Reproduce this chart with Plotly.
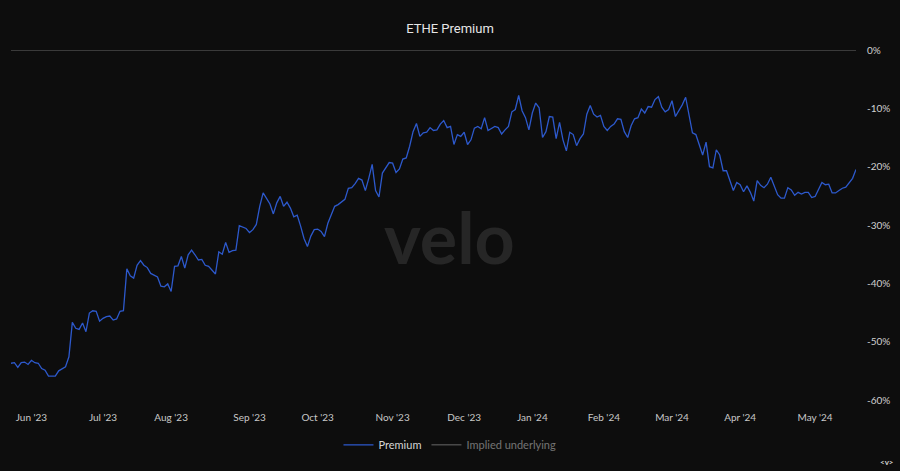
import pandas as pd
import plotly.graph_objects as go

# Trading-day calendar (US market holidays excluded)
start_date = "2023-05-23"
end_date = "2024-05-17"
market_holidays = ["2023-05-29", "2023-06-19", "2023-07-04", "2023-09-04", "2023-11-23",
                   "2023-12-25", "2024-01-01", "2024-01-15", "2024-02-19", "2024-03-29"]

# ETHE premium, percent
premium = [
    -53.7, -53.6, -54.4, -53.6, -53.5, -53.9, -53.2, -53.6, -53.7, -54.6,
    -54.9, -55.9, -55.9, -55.9, -55.0, -54.6, -54.3, -52.6, -46.7, -47.7,
    -47.9, -46.8, -48.3, -45.1, -44.7, -44.8, -46.5, -46.0, -45.7, -45.6,
    -46.3, -46.1, -44.8, -44.7, -37.5, -38.7, -39.1, -36.9, -36.1, -36.9,
    -37.3, -38.3, -38.6, -38.9, -40.5, -40.6, -40.1, -41.4, -37.1, -37.0,
    -35.4, -37.4, -35.1, -34.3, -35.1, -36.0, -35.9, -36.9, -37.1, -37.7,
    -38.4, -34.6, -35.0, -33.0, -34.7, -34.4, -34.3, -30.1, -30.4, -30.6,
    -31.3, -30.8, -29.9, -26.8, -24.5, -25.4, -26.4, -28.1, -26.2, -25.1,
    -26.8, -26.1, -27.1, -28.6, -28.3, -30.2, -32.3, -33.7, -31.9, -30.8,
    -30.7, -31.1, -32.0, -29.7, -28.3, -26.8, -26.5, -26.0, -25.6, -23.7,
    -23.6, -22.9, -22.0, -22.3, -24.1, -22.0, -19.6, -24.1, -25.2, -21.1,
    -20.1, -19.3, -19.4, -21.0, -20.4, -18.7, -18.5, -16.5, -14.0, -12.6,
    -14.8, -14.2, -14.1, -13.3, -13.8, -13.7, -12.7, -12.1, -13.3, -13.1,
    -16.2, -14.5, -14.8, -14.1, -16.2, -15.4, -13.4, -13.1, -13.5, -11.6,
    -13.8, -13.5, -13.1, -13.3, -14.4, -13.7, -13.1, -10.6, -10.2, -7.8,
    -10.4, -11.6, -13.7, -10.8, -9.1, -9.9, -15.0, -14.0, -11.4, -11.5,
    -15.2, -12.4, -15.4, -17.3, -14.1, -14.5, -16.4, -15.2, -14.4, -11.0,
    -9.5, -11.0, -11.5, -11.2, -13.1, -13.8, -13.1, -12.7, -11.8, -11.9,
    -14.0, -15.0, -13.0, -11.8, -11.6, -10.1, -10.8, -9.7, -9.8, -8.5,
    -8.0, -9.8, -10.6, -10.2, -8.7, -11.4, -10.5, -9.4, -8.1, -11.1,
    -14.2, -14.5, -16.4, -18.0, -15.8, -20.0, -20.2, -17.1, -18.0, -20.7,
    -20.7, -22.3, -24.1, -22.7, -23.1, -24.3, -23.3, -24.4, -25.9, -22.4,
    -23.2, -23.6, -23.0, -21.8, -23.4, -24.8, -25.4, -25.4, -23.6, -24.0,
    -24.9, -24.4, -24.7, -24.4, -24.4, -25.3, -25.1, -23.8, -22.7, -23.1,
    -23.0, -24.5, -24.5, -24.1, -23.7, -23.5, -22.8, -22.0, -20.5,
]

y_ticks = [0, -10, -20, -30, -40, -50, -60]
y_tick_labels = ["0%", "-10%", "-20%", "-30%", "-40%", "-50%", "-60%"]

days = pd.bdate_range(start_date, end_date, freq="C", holidays=market_holidays)
dates = [d.strftime("%Y-%m-%d") for d in days][: len(premium)]

# first trading day of each month -> tick
tick_vals, tick_text = [], []
seen = set()
for d in days[: len(premium)]:
    key = (d.year, d.month)
    if key not in seen:
        seen.add(key)
        if d.strftime("%Y-%m-%d") != dates[0]:
            tick_vals.append(d.strftime("%Y-%m-%d"))
            tick_text.append(d.strftime("%b '%y"))

BG = "#0d0d0d"
FONT = "Lato"

fig = go.Figure()
fig.add_trace(go.Scatter(
    x=dates, y=premium, mode="lines", name="Premium",
    line=dict(color="#2d59cc", width=1.3),
))
fig.add_trace(go.Scatter(
    x=dates, y=premium, mode="lines", name="Implied underlying",
    line=dict(color="#9a9a9a", width=1.3), visible="legendonly",
))

fig.update_layout(
    width=900, height=471,
    paper_bgcolor=BG, plot_bgcolor=BG,
    margin=dict(l=11, r=44, t=50, b=71),
    title=dict(text="ETHE Premium", x=0.5, xanchor="center", y=0.94, yanchor="middle",
               font=dict(family="Roboto", size=13, color="#e6e6e6")),
    font=dict(family=FONT, size=10, color="#cfcfcf"),
    showlegend=True,
    legend=dict(orientation="h", x=0.5195, xanchor="center", y=-0.128, yanchor="middle",
                font=dict(family=FONT, size=11, color="#d6d6d6"),
                bgcolor="rgba(0,0,0,0)", itemwidth=30),
    xaxis=dict(type="category", range=[0, len(premium) - 1],
               tickmode="array", tickvals=tick_vals, ticktext=tick_text,
               showgrid=False, zeroline=False, showline=False, ticks="",
               ticklabelstandoff=10,
               tickfont=dict(family=FONT, size=10, color="#c8c8c8")),
    yaxis=dict(side="right", range=[-60, 0], tickmode="array", tickvals=y_ticks,
               ticktext=y_tick_labels, showgrid=False, zeroline=True, zerolinecolor="#3a3a3a",
               zerolinewidth=1, showline=False, ticks="", ticklabelstandoff=10,
               tickfont=dict(family=FONT, size=10, color="#d0d0d0")),
    annotations=[
        dict(text="velo", xref="paper", yref="paper", x=0.5195, y=0.465, showarrow=False,
             font=dict(family="Lato", size=70, color="#262626", weight=700),
             xanchor="center", yanchor="middle"),
        dict(text="<b>&lt;v&gt;</b>", xref="paper", yref="paper", x=1.047, y=-0.177,
             showarrow=False, font=dict(family=FONT, size=8, color="#d0d0d0"),
             xanchor="right", yanchor="middle"),
    ],
)

fig.write_html(
    "out.html",
    config={"displayModeBar": False},
    post_script="document.body.style.margin='0';document.body.style.padding='0';"
                "document.body.style.background='#0d0d0d';",
)
